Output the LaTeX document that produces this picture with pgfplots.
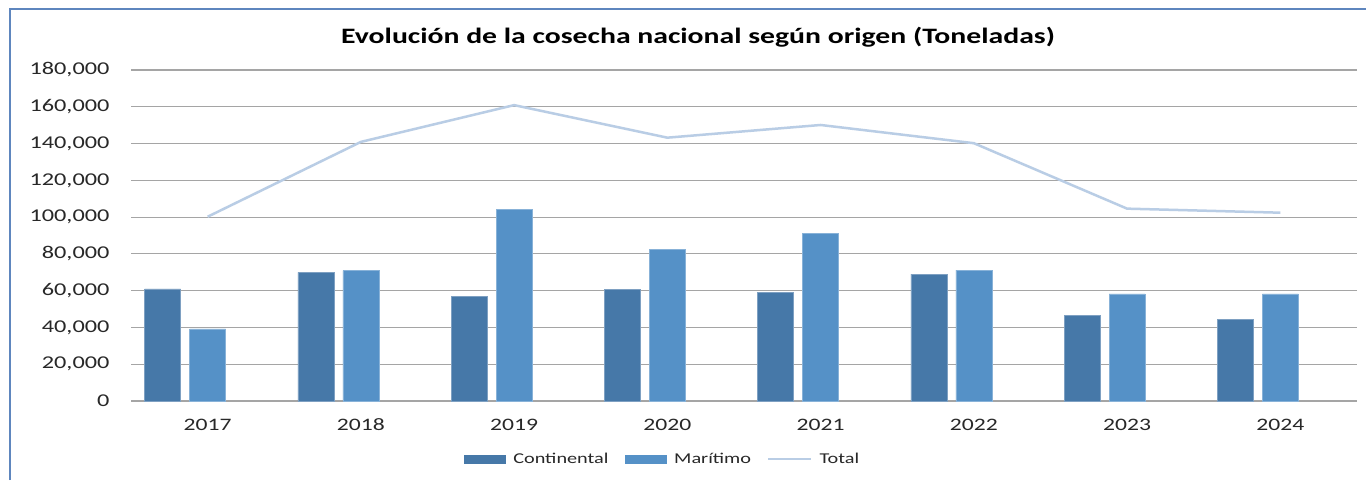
\documentclass[border=0pt]{standalone}
\usepackage{fontspec}
\setmainfont{Carlito}[FakeStretch=1.35]
\usepackage{pgfplots}
\pgfplotsset{compat=1.18}
\definecolor{cont}{RGB}{70,120,168}
\definecolor{mari}{RGB}{85,145,199}
\definecolor{total}{RGB}{185,205,229}
\definecolor{gridc}{RGB}{165,165,165}
\definecolor{frame}{RGB}{94,134,190}
\definecolor{tickc}{RGB}{40,40,40}
\begin{document}
\begin{tikzpicture}[x=1pt,y=1pt]
\useasboundingbox (0,0) rectangle (1366,480);
\fill[white] (0,0) rectangle (1366,480);
\draw[frame, line width=2pt] (10,0) -- (10,471) -- (1366,471);
\node[font=\bfseries\fontsize{22}{26}\selectfont] at (698,443) {Evolución de la cosecha nacional según origen (Toneladas)};
\begin{axis}[
  at={(131pt,79pt)}, anchor=south west, scale only axis,
  width=1226pt, height=331pt,
  xmin=-0.5, xmax=7.5, ymin=0, ymax=180000,
  ytick distance=20000,
  xtick={0,1,2,3,4,5,6,7},
  xticklabels={2017,2018,2019,2020,2021,2022,2023,2024},
  axis line style={draw=none},
  major tick length=0pt,
  ymajorgrids, grid style={gridc, line width=1.2pt},
  scaled y ticks=false,
  /pgf/number format/.cd, 1000 sep={,}, fixed, assume math mode=true,
  /pgfplots/.cd,
  yticklabel style={font=\fontsize{18}{20}\selectfont, text=tickc, xshift=-18pt},
  xticklabel style={font=\fontsize{17.5}{20}\selectfont, text=tickc, anchor=north, text height=12pt, text depth=0pt, yshift=-14pt},
  legend style={at={(0.4335,-0.175)}, anchor=center, draw=none,
    font=\fontsize{15}{17}\selectfont, text=tickc,
    /tikz/every even column/.append style={column sep=14pt}},
  legend columns=3,
]
\addplot[ybar, bar width=36pt, bar shift=-45pt, fill=cont, draw=cont!70!white, line width=0.6pt,
  legend image code/.code={\fill[cont] (0pt,-4pt) rectangle (41pt,4pt); \path (47pt,0pt);}]
  coordinates {(0,61000) (1,70000) (2,56700) (3,60700) (4,59100) (5,69000) (6,46400) (7,44200)};
\addlegendentry{Continental}
\addplot[ybar, bar width=36pt, bar shift=0pt, fill=mari, draw=mari!70!white, line width=0.6pt,
  legend image code/.code={\fill[mari] (0pt,-4pt) rectangle (41pt,4pt); \path (47pt,0pt);}]
  coordinates {(0,39200) (1,70900) (2,104200) (3,82500) (4,91000) (5,71200) (6,58200) (7,58200)};
\addlegendentry{Marítimo}
\addplot[sharp plot, no marks, total, line width=2.5pt,
  legend image code/.code={\draw[total, line width=2.5pt] (0pt,0pt) -- (43pt,0pt); \path (48pt,0pt);}]
  coordinates {(0,100200) (1,140900) (2,160900) (3,143200) (4,150100) (5,140200) (6,104600) (7,102400)};
\addlegendentry{Total}
\end{axis}
\end{tikzpicture}
\end{document}
